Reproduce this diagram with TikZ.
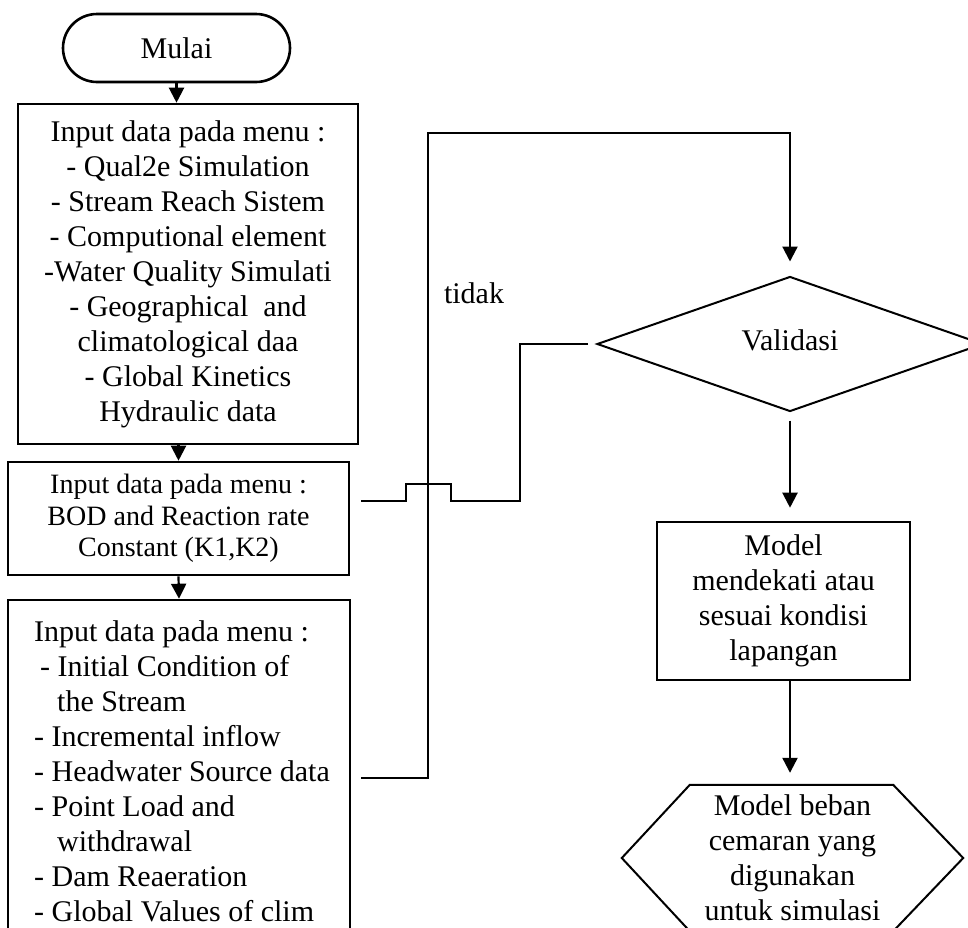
\documentclass[tikz,border=0pt]{standalone}
\usepackage{fontspec}
\setmainfont{Liberation Serif}
\usetikzlibrary{arrows.meta,shapes.geometric,calc}
\begin{document}
\begin{tikzpicture}[x=1pt,y=-1pt,
  txt/.style={font=\fontsize{30}{35}\selectfont},
  box/.style={draw, line width=2.6pt, align=center, inner sep=0pt, txt},
  conn/.style={line width=2.2pt},
  arr/.style={conn, -{Triangle[length=15pt,width=15pt]}},
  outline/.style={line width=2pt, line join=miter}]
\useasboundingbox (0,0) rectangle (968,927);
\clip (0,0) rectangle (968,927);

% left column: start and the three input steps
\node[box, rounded corners=34pt, minimum width=227pt, minimum height=68pt] (start) at (176.5,48) {Mulai};
\node[box, minimum width=340pt, minimum height=340pt] (inA) at (188,274)
  {Input data pada menu :\\- Qual2e Simulation\\- Stream Reach Sistem\\- Computional element\\-Water Quality Simulati\\- Geographical~ and\\climatological daa\\- Global Kinetics\\Hydraulic data};
\node[box, font=\fontsize{28}{31.5}\selectfont, minimum width=341pt, minimum height=113pt] (inB) at (178.5,518.5)
  {Input data pada menu :\\BOD and Reaction rate\\Constant (K1,K2)};
\node[box, minimum width=342pt, minimum height=342pt, inner xsep=18pt, align=flush left] (inC) at (179,771)
  {\hspace*{6pt}Input data pada menu :\\
   \hspace*{12pt}- Initial Condition of\\
   \hspace*{29pt}the Stream\\
   \hspace*{6pt}- Incremental inflow\\
   \hspace*{6pt}- Headwater Source data\\
   \hspace*{6pt}- Point Load and\\
   \hspace*{29pt}withdrawal\\
   \hspace*{6pt}- Dam Reaeration\\
   \hspace*{6pt}- Global Values of clim};

% right column: decision, result and output
\node[draw, diamond, outline, minimum width=386pt, minimum height=135pt, inner sep=0pt, txt] (val) at (790,344) {\raisebox{8pt}{Validasi}};
\node[box, minimum width=253pt, minimum height=158pt] (ok) at (783.5,601)
  {Model\\mendekati atau\\sesuai kondisi\\lapangan};
\node[align=center, inner sep=0pt, minimum width=341pt, minimum height=146pt, txt] (out) at (792.5,858)
  {Model beban\\cemaran yang\\digunakan\\untuk simulasi};
\draw[outline] (out.west) -- ($(out.north west)+(68,0)$) -- ($(out.north east)+(-70,0)$) -- (out.east)
  -- ($(out.south east)+(-70,0)$) -- ($(out.south west)+(68,0)$) -- cycle;

\node[txt, inner sep=0pt] (no) at (474,293) {tidak};

% main flow
\draw[arr] (start.south) -- (start.south |- inA.north);
\draw[arr] (inB.north |- inA.south) -- (inB.north);
\draw[arr] (inB.south) -- (inC.north);

% feed from the last input step up to the validation
\coordinate (feed) at (428,778);
\coordinate (up) at (428,133);
\draw[arr, shorten <=10pt, shorten >=14pt] (inC.east |- feed) -- (feed) -- (up) -- (up -| val.north) -- (val.north);

% "tidak" branch back to the reaction rate step, hopping over the feed line
\coordinate (bendR) at (520,501);
\coordinate (hopR) at (451,484);
\coordinate (hopL) at (406,484);
\draw[conn, shorten <=8pt, shorten >=11pt] (val.west) -- (val.west -| bendR) -- (bendR)
  -- (bendR -| hopR) -- (hopR) -- (hopL) -- (hopL |- bendR) -- (inB.east |- bendR);

% path down to the result and output
\draw[arr, shorten <=8pt, shorten >=13pt] (val.south) -- (val.south |- ok.north);
\draw[arr, shorten >=12pt] (val.south |- ok.south) -- (val.south |- out.north);
\end{tikzpicture}
\end{document}
